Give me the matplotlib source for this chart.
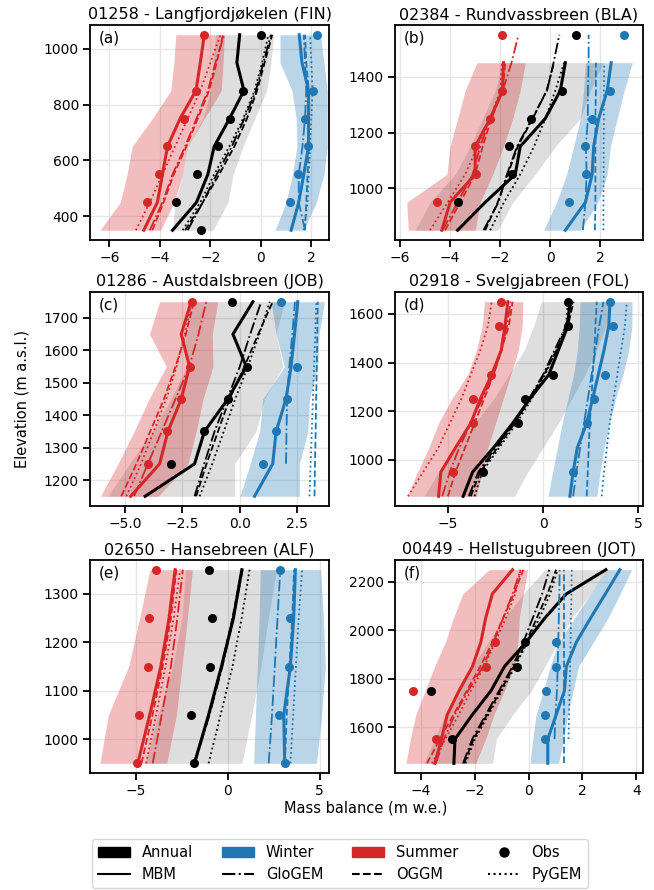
import numpy as np
import matplotlib
matplotlib.use("Agg")
import matplotlib.pyplot as plt
from matplotlib.patches import Patch
from matplotlib.lines import Line2D

nan = float("nan")

TITLES = ["01258 - Langfjordjøkelen (FIN)", "02384 - Rundvassbreen (BLA)",
          "01286 - Austdalsbreen (JOB)", "02918 - Svelgjabreen (FOL)",
          "02650 - Hansebreen (ALF)", "00449 - Hellstugubreen (JOT)"]
LABELS = ["(a)", "(b)", "(c)", "(d)", "(e)", "(f)"]

# ---------------- Panel A ----------------
A_ELEV = [350, 450, 550, 650, 750, 850, 950, 1050]
A_ANN_MBM = [-3.5, -2.55, -2.1, -1.85, -1.24, -0.67, -0.95, -0.84]
A_ANN_GLO = [-2.9, -2.3, -1.75, -1.15, -0.65, -0.2, 0.1, 0.4]
A_ANN_OGGM = [-3.0, -2.3, -1.65, -1.05, -0.55, -0.15, 0.15, 0.45]
A_ANN_PYGEM = [-3.1, -2.4, -1.85, -1.25, -0.7, -0.25, 0.05, 0.3]
A_ANN_OBS = [-2.37, -3.35, -2.55, -1.71, -1.21, -0.71, nan, 0.0]
A_ANN_LO = [-3.5, -3.4, -3.1, -2.9, -2.3, -2.0, -1.9, -1.8]
A_ANN_HI = [-1.9, -1.3, -1.1, -0.7, -0.24, 0.23, 0.4, 0.5]
A_WIN_MBM = [1.2, 1.5, 1.7, 1.89, 1.89, 1.89, 1.63, 1.52]
A_WIN_GLO = [1.75, 1.5, 1.5, 1.65, 1.75, 1.8, 1.75, 1.7]
A_WIN_OGGM = [1.75, 1.8, 1.85, 1.9, 1.9, 1.9, 1.8, 1.75]
A_WIN_PYGEM = [1.7, 1.85, 1.9, 1.95, 2.0, 2.05, 2.0, 1.95]
A_WIN_OBS = [nan, 1.16, 1.47, 1.87, 1.76, 2.05, nan, 2.23]
A_WIN_LO = [0.56, 1.0, 1.25, 1.43, 1.4, 1.23, 0.76, 0.76]
A_WIN_HI = [1.69, 2.2, 2.5, 2.63, 2.63, 2.63, 2.5, 2.36]
A_SUM_MBM = [-4.64, -4.1, -3.9, -3.7, -3.2, -2.57, -2.4, -2.24]
A_SUM_GLO = [-4.4, -3.9, -3.5, -3.0, -2.55, -2.1, -1.8, -1.45]
A_SUM_OGGM = [-4.3, -3.85, -3.45, -2.95, -2.5, -2.05, -1.75, -1.5]
A_SUM_PYGEM = [-4.95, -4.4, -3.9, -3.4, -2.9, -2.4, -2.0, -1.6]
A_SUM_OBS = [nan, -4.51, -4.04, -3.71, -3.04, -2.57, nan, -2.24]
A_SUM_LO = [-6.37, -5.57, -5.3, -5.1, -4.3, -3.57, -3.45, -3.37]
A_SUM_HI = [-3.97, -3.44, -3.1, -2.9, -2.24, -1.57, -1.5, -1.44]

# ---------------- Panel B ----------------
B_ELEV = [850, 950, 1050, 1150, 1250, 1350, 1450, 1550]
B_ANN_MBM = [-3.7, -2.6, -1.4, -1.2, -0.2, 0.4, 0.6, nan]
B_ANN_GLO = [-2.67, -2.07, -1.73, -1.33, -0.73, -0.13, 0.13, 0.36]
B_ANN_OGGM = [-2.6, -2.1, -1.7, -1.3, -0.7, -0.15, 0.15, nan]
B_ANN_PYGEM = [-2.4, -1.85, -1.2, -0.65, -0.2, 0.2, 0.55, nan]
B_ANN_OBS = [nan, -3.67, -1.53, -1.63, -0.77, 0.47, nan, 1.04]
B_ANN_LO = [-5.4, -4.8, -3.8, -3.2, -2.7, -2.2, -1.9, nan]
B_ANN_HI = [-2.1, -1.5, -0.6, 0.2, 1.2, 1.6, 2.1, nan]
B_WIN_MBM = [0.6, 1.4, 1.67, 1.73, 1.93, 2.27, 2.43, nan]
B_WIN_GLO = [1.3, 1.4, 1.45, 1.42, 1.5, 1.5, 1.53, 1.53]
B_WIN_OGGM = [1.78, 1.8, 1.8, 1.8, 1.8, 1.82, 1.82, nan]
B_WIN_PYGEM = [2.12, 2.12, 2.13, 2.13, 2.14, 2.14, 2.15, nan]
B_WIN_OBS = [nan, 0.73, 1.43, 1.4, 1.67, 2.4, nan, 2.96]
B_WIN_LO = [-0.27, 0.25, 0.65, 0.93, 1.2, 1.33, 1.4, nan]
B_WIN_HI = [1.2, 1.9, 2.27, 2.4, 2.67, 2.95, 3.27, nan]
B_SUM_MBM = [-4.33, -4.0, -3.0, -3.0, -2.4, -1.91, -1.87, nan]
B_SUM_GLO = [-4.3, -3.7, -3.1, -2.8, -2.4, -1.9, -1.55, -1.27]
B_SUM_OGGM = [-4.2, -3.6, -3.0, -2.7, -2.35, -1.9, -1.8, nan]
B_SUM_PYGEM = [-4.8, -4.1, -3.4, -2.9, -2.4, -2.0, -1.93, nan]
B_SUM_OBS = [nan, -4.53, -2.96, -3.0, -2.4, -1.91, nan, -1.91]
B_SUM_LO = [-5.67, -5.73, -4.13, -4.0, -3.7, -3.4, -2.93, nan]
B_SUM_HI = [-3.0, -2.8, -2.3, -1.87, -1.5, -1.2, -1.0, nan]

# ---------------- Panel C ----------------
C_ELEV = [1150, 1250, 1350, 1450, 1550, 1650, 1750]
C_ANN_MBM = [-4.12, -1.97, -1.54, -0.52, 0.28, -0.3, 0.57]
C_ANN_GLO = [-1.97, -1.55, -1.1, -0.55, 0.0, 0.45, 0.93]
C_ANN_OGGM = [-1.9, -1.45, -0.95, -0.45, 0.2, 0.8, 1.43]
C_ANN_PYGEM = [-1.75, -1.2, -0.7, -0.2, 0.35, 0.85, 1.3]
C_ANN_OBS = [nan, -2.99, -1.58, -0.52, 0.32, nan, -0.33]
C_ANN_LO = [-5.74, -4.8, -3.8, -3.0, -2.3, -2.4, -2.2]
C_ANN_HI = [-0.23, -0.23, 0.7, 1.07, 1.87, 1.58, 1.94]
C_WIN_MBM = [0.64, 1.43, 1.58, 2.01, 2.23, 2.38, 2.52]
C_WIN_GLO = [nan, 2.01, 2.03, 2.06, 2.15, 2.28, 2.4]
C_WIN_OGGM = [3.25, 3.27, 3.3, 3.32, 3.35, 3.37, 3.39]
C_WIN_PYGEM = [3.03, 3.08, 3.13, 3.18, 3.23, 3.28, 3.33]
C_WIN_OBS = [nan, 1.0, 1.59, 2.04, 2.49, nan, 1.8]
C_WIN_LO = [0.0, 0.45, 0.86, 1.0, 1.94, 1.58, 1.36]
C_WIN_HI = [2.59, 2.59, 2.96, 3.03, 3.39, 3.45, 3.68]
C_SUM_MBM = [-4.75, -3.49, -3.13, -2.55, -2.19, -2.55, -2.12]
C_SUM_GLO = [-4.6, -4.0, -3.4, -2.8, -2.2, -1.8, -1.46]
C_SUM_OGGM = [-5.16, -4.5, -3.9, -3.3, -2.8, -2.35, -2.0]
C_SUM_PYGEM = [-4.94, -4.3, -3.75, -3.2, -2.75, -2.4, -2.1]
C_SUM_OBS = [nan, -4.0, -3.17, -2.58, -2.19, nan, -2.09]
C_SUM_LO = [-6.07, -5.3, -4.6, -3.95, -3.2, -3.93, -3.49]
C_SUM_HI = [-3.55, -2.26, -1.9, -1.6, -1.17, -1.2, -0.96]

# ---------------- Panel D ----------------
D_ELEV = [850, 950, 1050, 1150, 1250, 1350, 1450, 1550, 1650]
D_ANN_MBM = [-4.2, -3.7, -2.6, -1.6, -0.7, 0.3, 0.8, 1.3, 1.4]
D_ANN_GLO = [-3.9, -3.4, -2.5, -1.5, -0.75, 0.0, 0.6, 1.2, 1.5]
D_ANN_OGGM = [-3.8, -3.3, -2.4, -1.5, -0.7, 0.05, 0.7, 1.3, 1.6]
D_ANN_PYGEM = [-3.6, -3.2, -2.3, -1.4, -0.6, 0.1, 0.7, 1.2, 1.3]
D_ANN_OBS = [nan, -3.17, nan, -1.32, -0.97, 0.53, nan, 1.32, 1.32]
D_ANN_LO = [-6.25, -5.5, -4.6, -3.6, -2.6, -1.8, -1.0, -0.5, -0.09]
D_ANN_HI = [-1.5, -0.8, 0.0, 0.8, 1.5, 2.2, 2.8, 3.3, 3.5]
D_WIN_MBM = [1.41, 1.58, 1.8, 2.29, 2.6, 2.9, 3.2, 3.45, 3.52]
D_WIN_GLO = [1.58, 1.75, 1.95, 2.15, 2.35, 2.55, 2.75, 2.95, 3.17]
D_WIN_OGGM = [2.29, 2.35, 2.4, 2.45, 2.55, 2.6, 2.7, 2.75, 2.82]
D_WIN_PYGEM = [3.08, 3.2, 3.35, 3.5, 3.7, 3.9, 4.1, 4.3, 4.4]
D_WIN_OBS = [nan, 1.58, nan, 2.29, 2.68, 3.26, nan, 3.66, 3.52]
D_WIN_LO = [0.26, 0.5, 0.75, 1.0, 1.3, 1.6, 1.8, 1.9, 1.94]
D_WIN_HI = [2.82, 3.0, 3.2, 3.5, 3.8, 4.2, 4.5, 4.67, 4.67]
D_SUM_MBM = [-5.49, -5.37, -4.6, -3.8, -3.3, -2.7, -2.2, -2.0, -1.85]
D_SUM_GLO = [-5.3, -4.9, -4.4, -3.8, -3.2, -2.6, -2.2, -1.9, -1.7]
D_SUM_OGGM = [-5.0, -4.6, -4.1, -3.6, -3.1, -2.6, -2.2, -1.8, -1.6]
D_SUM_PYGEM = [-7.1, -6.3, -5.5, -4.9, -4.3, -3.8, -3.3, -2.9, -2.7]
D_SUM_OBS = [nan, -4.75, nan, -3.66, -3.66, -2.73, nan, -2.29, -2.2]
D_SUM_LO = [-7.13, -6.6, -6.0, -5.5, -4.8, -3.96, -3.5, -3.2, -3.08]
D_SUM_HI = [-3.52, -3.2, -2.9, -2.5, -2.1, -1.7, -1.3, -1.1, -1.06]

# ---------------- Panel E ----------------
E_ELEV = [950, 1050, 1150, 1250, 1350]
E_ANN_MBM = [-1.82, -1.05, -0.35, 0.3, 0.76]
E_ANN_GLO = [-1.8, -1.0, -0.3, 0.3, 0.8]
E_ANN_OGGM = [-1.85, -1.05, -0.35, 0.25, 0.75]
E_ANN_PYGEM = [-1.05, -0.4, 0.25, 0.75, 1.18]
E_ANN_OBS = [-1.82, -2.0, -1.0, -0.87, -1.02]
E_ANN_LO = [-4.5, -3.8, -3.0, -2.5, -2.3]
E_ANN_HI = [0.76, 1.3, 1.8, 2.2, 2.65]
E_WIN_MBM = [3.09, 3.04, 3.4, 3.58, 3.67]
E_WIN_GLO = [2.22, 2.4, 2.55, 2.7, 2.85]
E_WIN_OGGM = [3.1, 3.2, 3.35, 3.5, 3.6]
E_WIN_PYGEM = [3.4, 3.55, 3.7, 3.85, 4.04]
E_WIN_OBS = [3.09, 2.76, 3.31, 3.4, 2.85]
E_WIN_LO = [1.4, 1.5, 1.6, 1.7, 1.76]
E_WIN_HI = [4.82, 5.1, 5.3, 5.2, 5.04]
E_SUM_MBM = [-4.9, -4.25, -3.65, -3.2, -2.87]
E_SUM_GLO = [-4.09, -3.6, -3.1, -2.75, -2.45]
E_SUM_OGGM = [-4.7, -4.1, -3.55, -3.1, -2.8]
E_SUM_PYGEM = [-4.45, -3.9, -3.4, -2.95, -2.6]
E_SUM_OBS = [-4.93, -4.82, -4.33, -4.29, -3.91]
E_SUM_LO = [-6.96, -6.5, -5.4, -4.8, -4.24]
E_SUM_HI = [-3.33, -2.8, -2.5, -2.2, -1.93]

# ---------------- Panel F ----------------
F_ELEV = [1450, 1550, 1650, 1750, 1850, 1950, 2050, 2150, 2250]
F_ANN_MBM = [-2.78, -2.74, -2.1, -1.4, -0.9, -0.1, 0.6, 1.4, 2.87]
F_ANN_GLO = [-2.44, -2.1, -1.6, -1.1, -0.6, -0.2, 0.15, 0.5, 0.77]
F_ANN_OGGM = [-2.4, -2.05, -1.55, -1.05, -0.55, -0.1, 0.3, 0.7, 1.02]
F_ANN_PYGEM = [-2.35, -2.0, -1.5, -1.0, -0.5, -0.05, 0.4, 0.8, 1.08]
F_ANN_OBS = [nan, -2.84, nan, -3.63, -0.45, -0.12, nan, nan, nan]
F_ANN_LO = [-3.9, -3.5, -3.1, -2.6, -2.1, -1.5, -0.9, -0.2, 0.6]
F_ANN_HI = [-1.35, -1.2, -0.6, 0.1, 0.6, 1.1, 1.6, 2.3, 2.9]
F_WIN_MBM = [0.71, 0.71, 1.02, 1.33, 1.4, 1.77, 2.3, 2.85, 3.39]
F_WIN_GLO = [nan, 0.96, 1.0, 1.05, 1.08, 1.1, 1.12, 1.14, 1.15]
F_WIN_OGGM = [1.3, 1.3, 1.3, 1.3, 1.3, 1.3, 1.3, 1.3, 1.3]
F_WIN_PYGEM = [nan, 1.48, 1.5, 1.52, 1.54, 1.56, 1.57, 1.59, 1.6]
F_WIN_OBS = [nan, 0.6, 0.6, 0.65, 1.02, 1.02, nan, nan, nan]
F_WIN_LO = [0.05, 0.15, 0.27, 0.55, 0.8, 1.1, 1.7, 2.3, 2.89]
F_WIN_HI = [1.11, 1.3, 1.45, 1.65, 1.85, 2.4, 2.95, 3.4, 3.83]
F_SUM_MBM = [-3.49, -3.24, -3.03, -2.59, -2.09, -1.78, -1.6, -1.35, -0.6]
F_SUM_GLO = [-3.45, -3.15, -2.75, -2.25, -1.7, -1.3, -0.95, -0.6, -0.3]
F_SUM_OGGM = [-3.78, -3.3, -2.8, -2.3, -1.8, -1.35, -0.95, -0.55, -0.2]
F_SUM_PYGEM = [-3.6, -3.1, -2.6, -2.15, -1.65, -1.25, -0.85, -0.5, -0.3]
F_SUM_OBS = [nan, -3.44, nan, -4.31, -1.6, -1.25, nan, nan, nan]
F_SUM_LO = [-4.56, -4.4, -4.2, -3.85, -3.5, -3.1, -2.8, -2.45, -1.47]
F_SUM_HI = [-1.97, -1.6, -1.3, -0.9, -0.55, -0.4, -0.35, -0.2, -0.04]

XTICKS = [[-6, -4, -2, 0, 2], [-6, -4, -2, 0, 2], [-5.0, -2.5, 0.0, 2.5],
          [-5, 0, 5], [-5, 0, 5], [-4, -2, 0, 2, 4]]
XTICKLABELS = [["−6", "−4", "−2", "0", "2"], ["−6", "−4", "−2", "0", "2"],
               ["−5.0", "−2.5", "0.0", "2.5"], ["−5", "0", "5"], ["−5", "0", "5"],
               ["−4", "−2", "0", "2", "4"]]
YTICKS = [[400, 600, 800, 1000], [1000, 1200, 1400],
          [1200, 1300, 1400, 1500, 1600, 1700], [1000, 1200, 1400, 1600],
          [1000, 1100, 1200, 1300], [1600, 1800, 2000, 2200]]
XLIMS = [(-6.77, 2.7), (-6.2, 3.7), (-6.52, 3.88), (-7.78, 5.25), (-7.5, 5.5), (-4.97, 4.25)]

SEASON_COLORS = {"ANN": "black", "WIN": "#1f77b4", "SUM": "#d62728"}
FILL_ALPHA = {"ANN": 0.13, "WIN": 0.3, "SUM": 0.3}
MODEL_STYLES = {"MBM": ("-", 2.2), "GLO": ("-.", 1.3), "OGGM": ("--", 1.3), "PYGEM": (":", 1.3)}

W, H = 654, 890
fig = plt.figure(figsize=(W / 100, H / 100), dpi=100)

col_x = [(90, 329), (395, 643)]
row_y = [(25, 240), (292, 506), (560, 773)]

g = globals()
for i, key in enumerate("ABCDEF"):
    r, c = divmod(i, 2)
    x0, x1 = col_x[c]
    y0, y1 = row_y[r]
    ax = fig.add_axes([x0 / W, 1 - y1 / H, (x1 - x0) / W, (y1 - y0) / H])
    elev = np.array(g[f"{key}_ELEV"], dtype=float)
    for s in ["ANN", "WIN", "SUM"]:
        col = SEASON_COLORS[s]
        lo = np.array(g[f"{key}_{s}_LO"], dtype=float)
        hi = np.array(g[f"{key}_{s}_HI"], dtype=float)
        m = ~np.isnan(lo)
        ax.fill_betweenx(elev[m], lo[m], hi[m], color=col, alpha=FILL_ALPHA[s], lw=0, zorder=1)
    for s in ["ANN", "WIN", "SUM"]:
        col = SEASON_COLORS[s]
        for mdl, (ls, lw) in MODEL_STYLES.items():
            v = np.array(g[f"{key}_{s}_{mdl}"], dtype=float)
            ax.plot(v, elev, ls=ls, lw=lw, color=col, zorder=3)
        obs = np.array(g[f"{key}_{s}_OBS"], dtype=float)
        ax.plot(obs, elev, "o", ms=6.5, color=col, mec="none", zorder=4)
    ax.set_xlim(*XLIMS[i])
    ax.set_ylim(elev.min() - 0.05 * (elev.max() - elev.min()),
                elev.max() + 0.05 * (elev.max() - elev.min()))
    ax.set_xticks(XTICKS[i])
    ax.set_xticklabels(XTICKLABELS[i])
    ax.set_yticks(YTICKS[i])
    ax.grid(True, color="#e6e6e6", lw=1.0)
    ax.set_axisbelow(True)
    for sp in ax.spines.values():
        sp.set_linewidth(1.3)
        sp.set_color("black")
    ax.tick_params(direction="out", length=5, width=1.3, labelsize=10, pad=3)
    ax.set_title(TITLES[i], fontsize=11.5, pad=4)
    ax.text(0.035, 0.975, LABELS[i], transform=ax.transAxes, ha="left", va="top", fontsize=11)

fig.text(22 / W, 1 - 399 / H, "Elevation (m a.s.l.)", rotation=90, ha="center", va="center", fontsize=10.5)
fig.text(366 / W, 1 - 808 / H, "Mass balance (m w.e.)", ha="center", va="center", fontsize=10.5)

handles = [
    Patch(color="black"), Line2D([], [], color="black", ls="-", lw=1.5),
    Patch(color="#1f77b4"), Line2D([], [], color="black", ls="-.", lw=1.5),
    Patch(color="#d62728"), Line2D([], [], color="black", ls="--", lw=1.5),
    Line2D([], [], color="black", marker="o", ls="none", ms=6.5), Line2D([], [], color="black", ls=":", lw=1.5),
]
labels = ["Annual", "MBM", "Winter", "GloGEM", "Summer", "OGGM", "Obs", "PyGEM"]
fig.legend(handles, labels, ncol=4, loc="upper left", bbox_to_anchor=(92 / W, 1 - 839 / H),
           fontsize=10.5, frameon=True, borderaxespad=0, handlelength=2.2)

fig.savefig("out.png", dpi=100)
